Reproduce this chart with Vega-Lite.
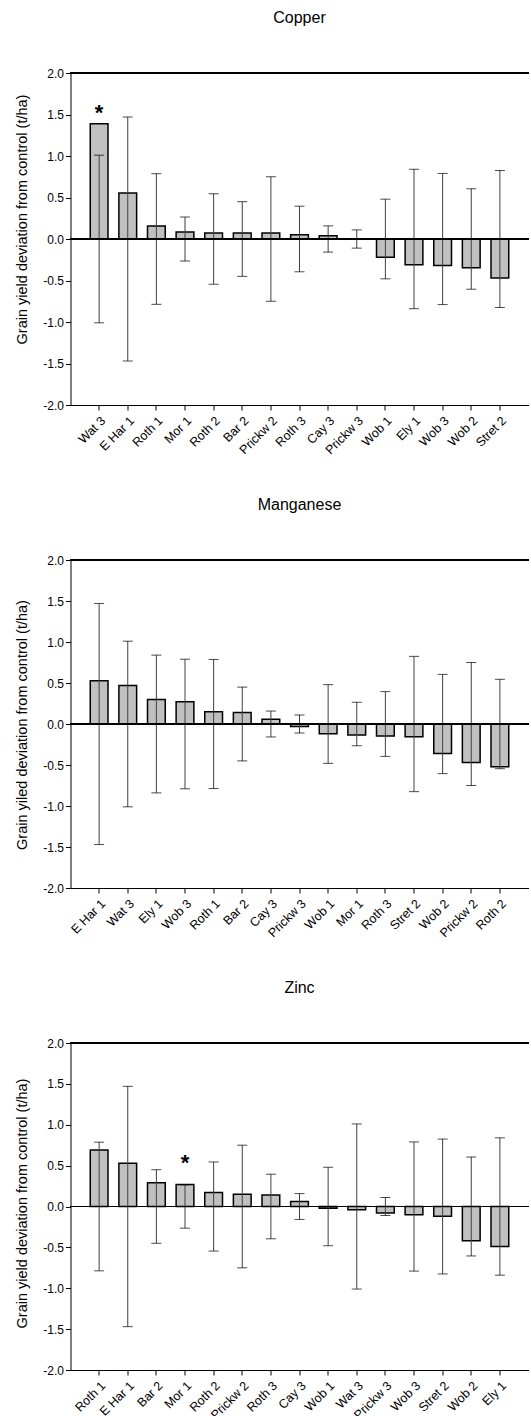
{
  "$schema": "https://vega.github.io/schema/vega-lite/v6.json",
  "padding": {"left": 14.5, "top": 9, "right": 0, "bottom": 0},
  "spacing": 155,
  "bounds": "flush",
  "config": {
    "view": {"stroke": null},
    "font": "Liberation Sans",
    "axis": {
      "domainColor": "#000000",
      "tickColor": "#000000",
      "tickSize": 5,
      "labelColor": "#000000",
      "labelFont": "Liberation Sans",
      "labelFontSize": 12,
      "titleFont": "Liberation Sans",
      "titleFontSize": 14.5,
      "titleFontWeight": "normal",
      "titleColor": "#000000",
      "grid": false
    },
    "axisY": {"values": [-2, -1.5, -1, -0.5, 0, 0.5, 1, 1.5, 2], "labelExpr": "replace(format(datum.value, '.1f'), '\u2212', '-')", "titlePadding": 13},
    "axisX": {"labelAngle": -45, "labelPadding": 4, "labelFontSize": 12.5},
    "title": {"font": "Liberation Sans", "fontSize": 16, "fontWeight": "normal", "color": "#000000", "anchor": "middle", "frame": "group", "baseline": "alphabetic", "offset": 41.5}
  },
  "datasets": {
    "copper": [
      {"cat": "Wat 3", "v": 1.39, "hi": 1.01, "lo": -1.01, "star": 1.57},
      {"cat": "E Har 1", "v": 0.554, "hi": 1.47, "lo": -1.47},
      {"cat": "Roth 1", "v": 0.157, "hi": 0.787, "lo": -0.787},
      {"cat": "Mor 1", "v": 0.084, "hi": 0.265, "lo": -0.265},
      {"cat": "Roth 2", "v": 0.072, "hi": 0.545, "lo": -0.545},
      {"cat": "Bar 2", "v": 0.072, "hi": 0.45, "lo": -0.45},
      {"cat": "Prickw 2", "v": 0.072, "hi": 0.75, "lo": -0.75},
      {"cat": "Roth 3", "v": 0.052, "hi": 0.395, "lo": -0.395},
      {"cat": "Cay 3", "v": 0.04, "hi": 0.158, "lo": -0.158},
      {"cat": "Prickw 3", "v": 0.0, "hi": 0.11, "lo": -0.11},
      {"cat": "Wob 1", "v": -0.22, "hi": 0.48, "lo": -0.48},
      {"cat": "Ely 1", "v": -0.31, "hi": 0.84, "lo": -0.84},
      {"cat": "Wob 3", "v": -0.32, "hi": 0.79, "lo": -0.79},
      {"cat": "Wob 2", "v": -0.345, "hi": 0.605, "lo": -0.605},
      {"cat": "Stret 2", "v": -0.47, "hi": 0.825, "lo": -0.825}
    ],
    "manganese": [
      {"cat": "E Har 1", "v": 0.528, "hi": 1.47, "lo": -1.47},
      {"cat": "Wat 3", "v": 0.47, "hi": 1.01, "lo": -1.01},
      {"cat": "Ely 1", "v": 0.30, "hi": 0.84, "lo": -0.84},
      {"cat": "Wob 3", "v": 0.27, "hi": 0.79, "lo": -0.79},
      {"cat": "Roth 1", "v": 0.15, "hi": 0.787, "lo": -0.787},
      {"cat": "Bar 2", "v": 0.14, "hi": 0.45, "lo": -0.45},
      {"cat": "Cay 3", "v": 0.057, "hi": 0.158, "lo": -0.158},
      {"cat": "Prickw 3", "v": -0.03, "hi": 0.11, "lo": -0.11},
      {"cat": "Wob 1", "v": -0.12, "hi": 0.48, "lo": -0.48},
      {"cat": "Mor 1", "v": -0.134, "hi": 0.265, "lo": -0.265},
      {"cat": "Roth 3", "v": -0.146, "hi": 0.395, "lo": -0.395},
      {"cat": "Stret 2", "v": -0.155, "hi": 0.825, "lo": -0.825},
      {"cat": "Wob 2", "v": -0.36, "hi": 0.605, "lo": -0.605},
      {"cat": "Prickw 2", "v": -0.47, "hi": 0.75, "lo": -0.75},
      {"cat": "Roth 2", "v": -0.52, "hi": 0.545, "lo": -0.545}
    ],
    "zinc": [
      {"cat": "Roth 1", "v": 0.69, "hi": 0.787, "lo": -0.787},
      {"cat": "E Har 1", "v": 0.53, "hi": 1.47, "lo": -1.47},
      {"cat": "Bar 2", "v": 0.29, "hi": 0.45, "lo": -0.45},
      {"cat": "Mor 1", "v": 0.27, "hi": 0.265, "lo": -0.265, "star": 0.58},
      {"cat": "Roth 2", "v": 0.17, "hi": 0.545, "lo": -0.545},
      {"cat": "Prickw 2", "v": 0.15, "hi": 0.75, "lo": -0.75},
      {"cat": "Roth 3", "v": 0.14, "hi": 0.395, "lo": -0.395},
      {"cat": "Cay 3", "v": 0.06, "hi": 0.158, "lo": -0.158},
      {"cat": "Wob 1", "v": -0.02, "hi": 0.48, "lo": -0.48},
      {"cat": "Wat 3", "v": -0.04, "hi": 1.01, "lo": -1.01},
      {"cat": "Prickw 3", "v": -0.08, "hi": 0.11, "lo": -0.11},
      {"cat": "Wob 3", "v": -0.10, "hi": 0.79, "lo": -0.79},
      {"cat": "Stret 2", "v": -0.12, "hi": 0.825, "lo": -0.825},
      {"cat": "Wob 2", "v": -0.42, "hi": 0.605, "lo": -0.605},
      {"cat": "Ely 1", "v": -0.49, "hi": 0.84, "lo": -0.84}
    ]
  },
  "vconcat": [
    {
      "title": {"text": "Copper"},
      "width": 458,
      "height": 332,
      "data": {"name": "copper"},
      "layer": [
        {
          "mark": {"type": "bar", "fill": "#c0c0c0", "stroke": "#000000", "strokeWidth": 1.5},
          "encoding": {
            "x": {"field": "cat", "type": "nominal", "sort": null, "title": null, "scale": {"paddingInner": 0.38, "paddingOuter": 0.69}},
            "y": {"field": "v", "type": "quantitative", "title": "Grain yield deviation from control (t/ha)", "scale": {"domain": [-2, 2], "nice": false, "zero": false}, "axis": {"titleY": 146}}
          }
        },
        {
          "mark": {"type": "rule", "color": "#404040", "strokeWidth": 1},
          "encoding": {
            "x": {"field": "cat", "type": "nominal", "sort": null, "title": null},
            "y": {"field": "lo", "type": "quantitative", "title": "Grain yield deviation from control (t/ha)"},
            "y2": {"field": "hi"}
          }
        },
        {
          "mark": {"type": "tick", "color": "#000000", "size": 10, "thickness": 1},
          "encoding": {
            "x": {"field": "cat", "type": "nominal", "sort": null, "title": null},
            "y": {"field": "hi", "type": "quantitative", "title": "Grain yield deviation from control (t/ha)"}
          }
        },
        {
          "mark": {"type": "tick", "color": "#000000", "size": 10, "thickness": 1},
          "encoding": {
            "x": {"field": "cat", "type": "nominal", "sort": null, "title": null},
            "y": {"field": "lo", "type": "quantitative", "title": "Grain yield deviation from control (t/ha)"}
          }
        },
        {
          "transform": [{"filter": "isValid(datum.star)"}],
          "mark": {"type": "text", "text": "*", "fontSize": 22, "fontWeight": "bold", "baseline": "middle", "dy": 4, "color": "#000000"},
          "encoding": {
            "x": {"field": "cat", "type": "nominal", "sort": null, "title": null},
            "y": {"field": "star", "type": "quantitative", "title": "Grain yield deviation from control (t/ha)"}
          }
        },
        {
          "mark": {"type": "rule", "color": "#000000", "strokeWidth": 1},
          "encoding": {"y": {"datum": 0, "type": "quantitative", "title": "Grain yield deviation from control (t/ha)"}}
        },
        {
          "mark": {"type": "rule", "color": "#000000", "strokeWidth": 1},
          "encoding": {"y": {"datum": 2, "type": "quantitative", "title": "Grain yield deviation from control (t/ha)"}}
        }
      ]
    },
    {
      "title": {"text": "Manganese"},
      "width": 458,
      "height": 328,
      "data": {"name": "manganese"},
      "layer": [
        {
          "mark": {"type": "bar", "fill": "#c0c0c0", "stroke": "#000000", "strokeWidth": 1.5},
          "encoding": {
            "x": {"field": "cat", "type": "nominal", "sort": null, "title": null, "scale": {"paddingInner": 0.38, "paddingOuter": 0.69}},
            "y": {"field": "v", "type": "quantitative", "title": "Grain yiled deviation from control (t/ha)", "scale": {"domain": [-2, 2], "nice": false, "zero": false}, "axis": {"titleY": 164.5}}
          }
        },
        {
          "mark": {"type": "rule", "color": "#404040", "strokeWidth": 1},
          "encoding": {
            "x": {"field": "cat", "type": "nominal", "sort": null, "title": null},
            "y": {"field": "lo", "type": "quantitative", "title": "Grain yiled deviation from control (t/ha)"},
            "y2": {"field": "hi"}
          }
        },
        {
          "mark": {"type": "tick", "color": "#000000", "size": 10, "thickness": 1},
          "encoding": {
            "x": {"field": "cat", "type": "nominal", "sort": null, "title": null},
            "y": {"field": "hi", "type": "quantitative", "title": "Grain yiled deviation from control (t/ha)"}
          }
        },
        {
          "mark": {"type": "tick", "color": "#000000", "size": 10, "thickness": 1},
          "encoding": {
            "x": {"field": "cat", "type": "nominal", "sort": null, "title": null},
            "y": {"field": "lo", "type": "quantitative", "title": "Grain yiled deviation from control (t/ha)"}
          }
        },
        {
          "mark": {"type": "rule", "color": "#000000", "strokeWidth": 1},
          "encoding": {"y": {"datum": 0, "type": "quantitative", "title": "Grain yiled deviation from control (t/ha)"}}
        },
        {
          "mark": {"type": "rule", "color": "#000000", "strokeWidth": 1},
          "encoding": {"y": {"datum": 2, "type": "quantitative", "title": "Grain yiled deviation from control (t/ha)"}}
        }
      ]
    },
    {
      "title": {"text": "Zinc"},
      "width": 458,
      "height": 327,
      "data": {"name": "zinc"},
      "layer": [
        {
          "mark": {"type": "bar", "fill": "#c0c0c0", "stroke": "#000000", "strokeWidth": 1.5},
          "encoding": {
            "x": {"field": "cat", "type": "nominal", "sort": null, "title": null, "scale": {"paddingInner": 0.38, "paddingOuter": 0.69}},
            "y": {"field": "v", "type": "quantitative", "title": "Grain yield deviation from control (t/ha)", "scale": {"domain": [-2, 2], "nice": false, "zero": false}, "axis": {"titleY": 160}}
          }
        },
        {
          "mark": {"type": "rule", "color": "#404040", "strokeWidth": 1},
          "encoding": {
            "x": {"field": "cat", "type": "nominal", "sort": null, "title": null},
            "y": {"field": "lo", "type": "quantitative", "title": "Grain yield deviation from control (t/ha)"},
            "y2": {"field": "hi"}
          }
        },
        {
          "mark": {"type": "tick", "color": "#000000", "size": 10, "thickness": 1},
          "encoding": {
            "x": {"field": "cat", "type": "nominal", "sort": null, "title": null},
            "y": {"field": "hi", "type": "quantitative", "title": "Grain yield deviation from control (t/ha)"}
          }
        },
        {
          "mark": {"type": "tick", "color": "#000000", "size": 10, "thickness": 1},
          "encoding": {
            "x": {"field": "cat", "type": "nominal", "sort": null, "title": null},
            "y": {"field": "lo", "type": "quantitative", "title": "Grain yield deviation from control (t/ha)"}
          }
        },
        {
          "transform": [{"filter": "isValid(datum.star)"}],
          "mark": {"type": "text", "text": "*", "fontSize": 22, "fontWeight": "bold", "baseline": "middle", "dy": 4, "color": "#000000"},
          "encoding": {
            "x": {"field": "cat", "type": "nominal", "sort": null, "title": null},
            "y": {"field": "star", "type": "quantitative", "title": "Grain yield deviation from control (t/ha)"}
          }
        },
        {
          "mark": {"type": "rule", "color": "#000000", "strokeWidth": 1},
          "encoding": {"y": {"datum": 0, "type": "quantitative", "title": "Grain yield deviation from control (t/ha)"}}
        },
        {
          "mark": {"type": "rule", "color": "#000000", "strokeWidth": 1},
          "encoding": {"y": {"datum": 2, "type": "quantitative", "title": "Grain yield deviation from control (t/ha)"}}
        }
      ]
    }
  ]
}
